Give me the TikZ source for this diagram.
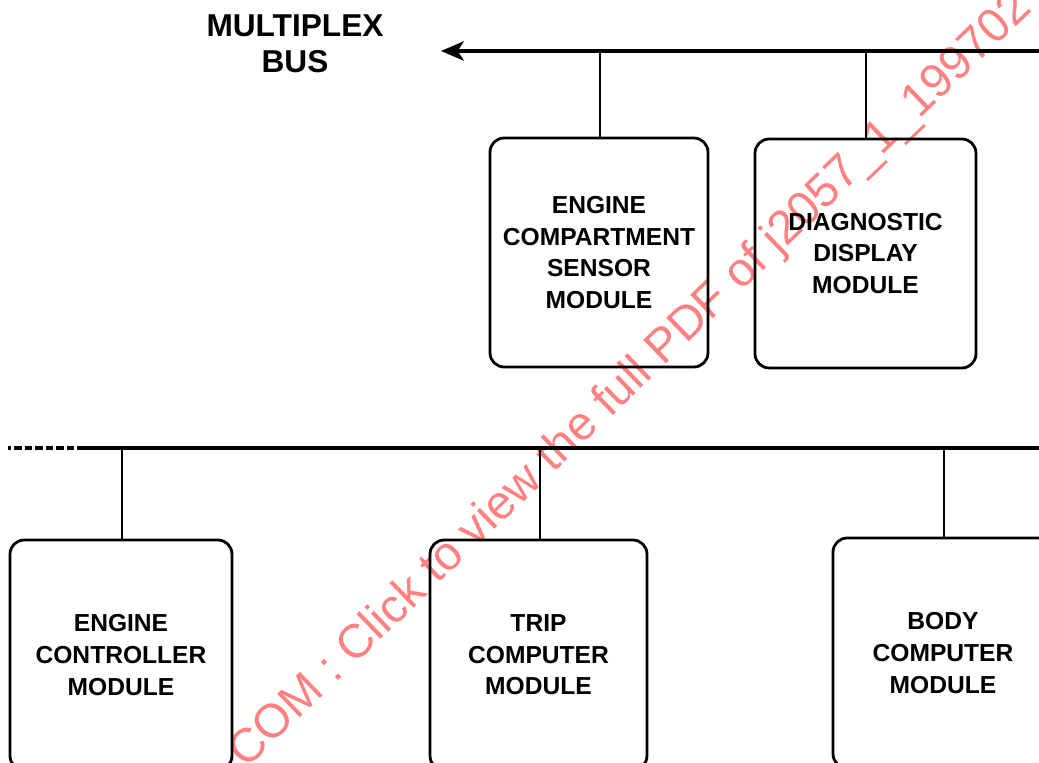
\documentclass[tikz,border=0pt]{standalone}
\usepackage{fontspec}
\setmainfont{Liberation Sans}
\usetikzlibrary{arrows.meta}
\begin{document}
\begin{tikzpicture}[x=0.02cm,y=-0.02cm,
  module/.style={draw,line width=1.6pt,rounded corners=8pt,align=center,
    font=\fontsize{14}{18}\selectfont\bfseries,inner sep=0pt},
  busline/.style={line width=1.8pt},
  drop/.style={line width=1.3pt},
  stamp/.style={text=red!50,font=\fontsize{27}{30}\selectfont,inner sep=0pt}]
\useasboundingbox (0,0) rectangle (1039,763);
\clip (0,0) rectangle (1039,763);

% diagonal stamp across the sheet
\node[stamp,rotate=44,anchor=base west] (stamp) at (246,770)
  {COM : Click to view the full PDF of j2057\_1\_199702};

% title of the upper bus
\node[font=\fontsize{18}{20.5}\selectfont\bfseries,align=center] (title) at (295,44)
  {MULTIPLEX\\BUS};

% modules on the upper bus
\node[module,minimum width=4.36cm,minimum height=4.58cm] (ecs) at (599,252.5)
  {ENGINE\\COMPARTMENT\\SENSOR\\MODULE};
\node[module,minimum width=4.42cm,minimum height=4.58cm] (ddm) at (865.5,253.5)
  {DIAGNOSTIC\\DISPLAY\\MODULE};

% modules on the lower bus
\node[module,minimum width=4.44cm,minimum height=4.6cm] (ecm) at (121,655)
  {ENGINE\\CONTROLLER\\MODULE};
\node[module,minimum width=4.34cm,minimum height=4.6cm] (tcm) at (538.5,655)
  {TRIP\\COMPUTER\\MODULE};
\node[module,minimum width=4.4cm,minimum height=4.6cm] (bcm) at (943,653)
  {BODY\\COMPUTER\\MODULE};

% upper bus with its direction arrow
\coordinate (uR) at (1045,51);
\coordinate (uL) at (441,51);
\draw[busline,-{Stealth[length=13pt,width=11pt,inset=3.5pt]}] (uR) -- (uL);
\coordinate (u1) at (600,51);
\coordinate (u2) at (866,51);
\draw[drop] (u1) -- (u1 |- ecs.north);
\draw[drop] (u2) -- (u2 |- ddm.north);

% lower bus, dashed where it continues to the left
\coordinate (lR) at (1045,448);
\coordinate (lM) at (85,448);
\coordinate (lL) at (8,448);
\draw[busline] (lR) -- (lM);
\draw[busline,dash pattern=on 4.4pt off 1.6pt] (lM) -- (lL);
\coordinate (l1) at (122,448);
\coordinate (l2) at (540,448);
\coordinate (l3) at (944,448);
\draw[drop] (l1) -- (l1 |- ecm.north);
\draw[drop] (l2) -- (l2 |- tcm.north);
\draw[drop] (l3) -- (l3 |- bcm.north);
\end{tikzpicture}
\end{document}
